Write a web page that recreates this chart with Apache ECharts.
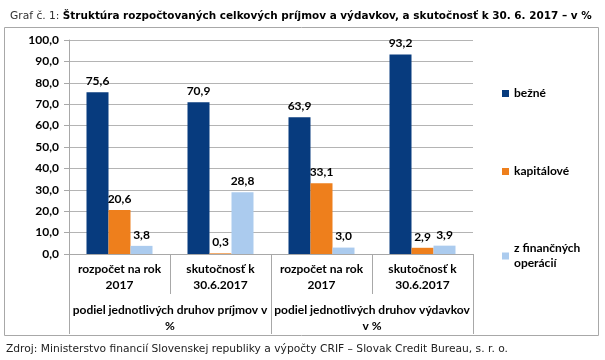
<!DOCTYPE html>
<html><head><meta charset="utf-8">
<script src="https://cdn.jsdelivr.net/npm/echarts@6/dist/echarts.min.js"></script>
<style>html,body{margin:0;padding:0;background:#fff}#c{width:605px;height:360px}</style>
</head><body><div id="c"></div>
<script>
const categories = ['rozpočet na rok\n2017', 'skutočnosť k\n30.6.2017', 'rozpočet na rok\n2017', 'skutočnosť k\n30.6.2017'];
const groups = ['podiel jednotlivých druhov príjmov v\n%', 'podiel jednotlivých druhov výdavkov\nv %'];
const seriesNames = ['bežné', 'kapitálové', 'z finančných\noperácií'];
const bezne = [75.6, 70.9, 63.9, 93.2];
const kapitalove = [20.6, 0.3, 33.1, 2.9];
const financne = [3.8, 28.8, 3.0, 3.9];
const yTicks = [0, 10, 20, 30, 40, 50, 60, 70, 80, 90, 100];

const colors = ['#073B7E', '#EE7F1C', '#ABCBEE'];
const FF = 'Lato';
const fmt = v => Number(v).toFixed(1).replace('.', ',');
const values = [bezne, kapitalove, financne];

const chart = echarts.init(document.getElementById('c'), null, {renderer: 'canvas'});
const legendTops = [81, 159, 236];
chart.setOption({
  animation: false,
  title: {
    left: 5, top: 6,
    text: '{n|Graf č. 1: }{b|Štruktúra rozpočtovaných celkových príjmov a výdavkov, a skutočnosť k 30. 6. 2017 – v %}',
    textStyle: {fontWeight: 'normal', rich: {
      n: {fontFamily: 'DejaVu Sans', fontSize: 10.7, fontWeight: 'normal', color: '#333'},
      b: {fontFamily: 'DejaVu Sans', fontSize: 10.45, fontWeight: 'bold', color: '#000'}
    }}
  },
  graphic: [
    {type: 'rect', shape: {x: 4.5, y: 27.5, width: 594, height: 308}, style: {fill: 'none', stroke: '#A8A8A8', lineWidth: 1}, z: -1},
    {type: 'text', left: 6, top: 344, style: {text: 'Zdroj: Ministerstvo financií Slovenskej republiky a výpočty CRIF – Slovak Credit Bureau, s. r. o.', font: '10.7px "DejaVu Sans"', fill: '#222'}}
  ],
  legend: seriesNames.map((n, i) => ({
    data: [n], left: 497, top: legendTops[i], orient: 'vertical',
    itemWidth: 7, itemHeight: 7, itemGap: 4, icon: 'rect',
    textStyle: {fontFamily: FF, fontWeight: 'bold', fontSize: 12, color: '#000', lineHeight: 15}
  })),
  grid: {left: 69, right: 132, top: 40, bottom: 106, containLabel: false},
  xAxis: [
    {type: 'category', data: categories, position: 'bottom',
      axisLine: {lineStyle: {color: '#A8A8A8'}},
      axisTick: {show: true, length: 40, alignWithLabel: false, interval: 0, lineStyle: {color: '#A8A8A8'}},
      axisLabel: {interval: 0, fontFamily: FF, fontWeight: 'bold', fontSize: 12, color: '#000', lineHeight: 16, margin: 7}
    },
    {type: 'category', data: groups, position: 'bottom', offset: 40,
      axisLine: {show: false},
      axisTick: {show: true, length: 40, alignWithLabel: false, interval: 0, lineStyle: {color: '#A8A8A8'}},
      axisLabel: {interval: 0, fontFamily: FF, fontWeight: 'bold', fontSize: 12, color: '#000', lineHeight: 16, margin: 8}
    }
  ],
  yAxis: {
    type: 'value', min: 0, max: 100, interval: 10,
    axisLine: {show: true, lineStyle: {color: '#A8A8A8'}},
    axisTick: {show: true, length: 5, lineStyle: {color: '#A8A8A8'}},
    splitLine: {lineStyle: {color: '#B4B4B4'}},
    axisLabel: {fontFamily: FF, fontWeight: 'bold', fontSize: 12, color: '#000', margin: 10, formatter: v => fmt(v)}
  },
  series: values.map((d, i) => ({
    name: seriesNames[i], type: 'bar', data: d, xAxisIndex: 0,
    barWidth: 22, barGap: '0%',
    itemStyle: {color: colors[i]},
    label: {show: true, position: 'top', distance: 5, formatter: p => fmt(p.value),
      fontFamily: FF, fontWeight: 'bold', fontSize: 12, color: '#000'}
  }))
});
</script></body></html>
